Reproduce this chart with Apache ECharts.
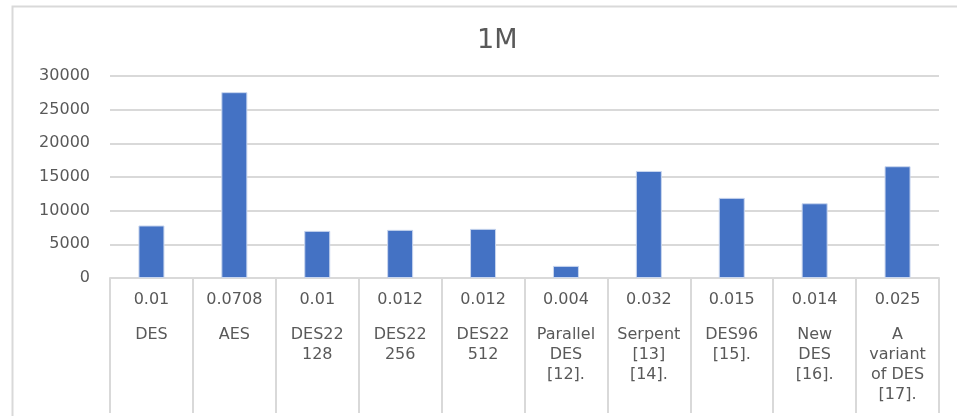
<!DOCTYPE html>
<html>
<head>
<meta charset="utf-8">
<script src="https://cdn.jsdelivr.net/npm/echarts@6/dist/echarts.min.js"></script>
<style>html,body{margin:0;padding:0;background:#fff;}#chart{width:957px;height:416px;}</style>
</head>
<body>
<div id="chart"></div>
<script>
const timeLabels = ['0.01','0.0708','0.01','0.012','0.012','0.004','0.032','0.015','0.014','0.025'];
const algorithms = ['DES','AES','DES22\n128','DES22\n256','DES22\n512','Parallel\nDES\n[12].','Serpent\n[13]\n[14].','DES96\n[15].','New\nDES\n[16].','A\nvariant\nof DES\n[17].'];
const values = [7800, 27600, 7000, 7150, 7300, 1800, 15900, 11900, 11100, 16600];
const yTicks = { min: 0, max: 30000, interval: 5000 };

const chart = echarts.init(document.getElementById('chart'));
const font = 'DejaVu Sans';
chart.setOption({
  backgroundColor: '#fff',
  animation: false,
  title: {
    text: '1M', left: 472, top: 22,
    textStyle: { fontFamily: font, fontSize: 27, fontWeight: 'normal', color: '#595959' }
  },
  graphic: [{
    type: 'rect', left: 10, top: 4,
    shape: { width: 960, height: 430 },
    style: { fill: 'none', stroke: '#d9d9d9', lineWidth: 2 }, silent: true
  }],
  grid: { left: 110, right: 18, top: 76, bottom: 138 },
  xAxis: {
    type: 'category',
    data: algorithms,
    axisLine: { lineStyle: { color: '#d9d9d9', width: 2 } },
    axisTick: { show: true, length: 135, lineStyle: { color: '#d9d9d9', width: 2 } },
    axisLabel: {
      interval: 0, margin: 12, hideOverlap: false,
      formatter: function (val, idx) {
        return '{v|' + timeLabels[idx] + '}\n{g| }\n' +
          val.split('\n').map(s => '{n|' + s + '}').join('\n');
      },
      rich: {
        v: { fontFamily: font, fontSize: 16, color: '#595959', lineHeight: 20, align: 'center' },
        g: { fontSize: 4, lineHeight: 15 },
        n: { fontFamily: font, fontSize: 16, color: '#595959', lineHeight: 20, align: 'center' }
      }
    }
  },
  yAxis: {
    type: 'value', min: yTicks.min, max: yTicks.max, interval: yTicks.interval,
    axisLine: { show: false }, axisTick: { show: false },
    axisLabel: { fontFamily: font, fontSize: 16, color: '#595959', margin: 20, formatter: v => String(v) },
    splitLine: { lineStyle: { color: '#d9d9d9', width: 2 } }
  },
  series: [{
    type: 'bar', data: values, barWidth: 26,
    itemStyle: { color: '#4472C4', borderColor: '#c9d6ee', borderWidth: 1 }
  }]
});
</script>
</body>
</html>
